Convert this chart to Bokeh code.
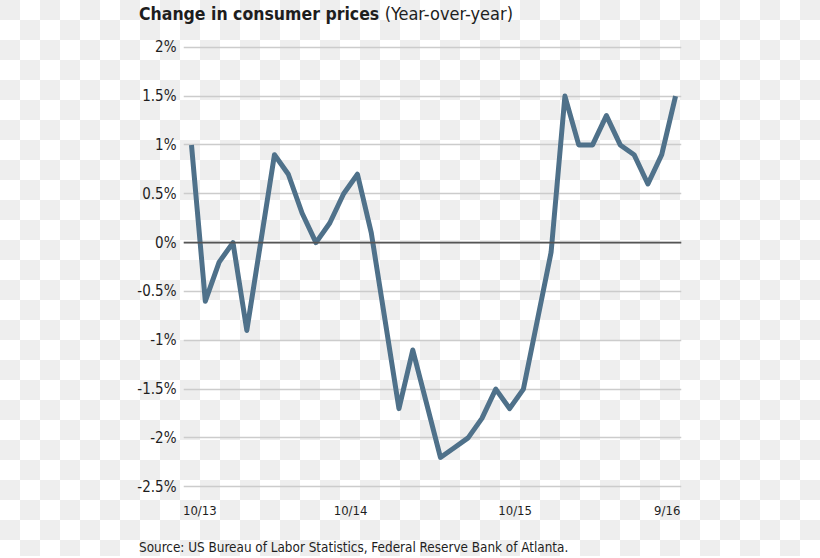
from bokeh.plotting import figure
from bokeh.models import Range1d, FixedTicker, Span, Div, InlineStyleSheet
from bokeh.layouts import column
from bokeh.embed import file_html
from bokeh.resources import INLINE

# ---- data ----
months = list(range(36))  # 10/13 ... 9/16, monthly index
cpi_change = [1.0, -0.6, -0.2, 0.0, -0.9, 0.0, 0.9, 0.7, 0.3, 0.0, 0.2, 0.5,
              0.7, 0.1, -0.8, -1.7, -1.1, -1.65, -2.2, -2.1, -2.0, -1.8, -1.5, -1.7,
              -1.5, -0.8, -0.1, 1.5, 1.0, 1.0, 1.3, 1.0, 0.9, 0.6, 0.9, 1.5]
# label positions (in month-index units) as they sit in the reference
x_tick_pos = [0.6, 11.5, 23.4, 34.4]
x_tick_labels = ["10/13", "10/14", "10/15", "9/16"]
y_ticks = [2.0, 1.5, 1.0, 0.5, 0.0, -0.5, -1.0, -1.5, -2.0, -2.5]
y_tick_labels = ["2%", "1.5%", "1%", "0.5%", "0%", "-0.5%", "-1%", "-1.5%", "-2%", "-2.5%"]
title_main = "Change in consumer prices"
title_sub = "(Year-over-year)"
source_text = "Source: US Bureau of Labor Statistics, Federal Reserve Bank of Atlanta."

FONT = "DejaVu Sans Condensed"
TXT = "#1e1e1e"
W = 820

overflow_css = InlineStyleSheet(css=":host { overflow: visible !important; } div { overflow: visible !important; }")

title_div = Div(
    text=(f'<div style="font-family:\'{FONT}\'; color:{TXT}; padding-left:139px; '
          f'padding-top:4px; white-space:nowrap; line-height:1.15;">'
          f'<span style="font-weight:bold; font-size:17.5px;">{title_main}</span> '
          f'<span style="font-size:18px; margin-left:2px;">{title_sub}</span></div>'),
    width=W, height=30, margin=0, stylesheets=[overflow_css])

p = figure(width=W, height=490,
           x_range=Range1d(-0.578, 35.43), y_range=Range1d(-2.6, 2.1),
           output_backend="svg", toolbar_location=None, margin=0,
           min_border_left=183, min_border_right=W - 183 - 498,
           min_border_top=7, min_border_bottom=24)
p.outline_line_color = None
p.background_fill_color = None
p.border_fill_color = None

p.xgrid.visible = False
p.ygrid.ticker = FixedTicker(ticks=y_ticks)
p.ygrid.grid_line_color = "#cccccc"
p.ygrid.grid_line_width = 1.5

p.add_layout(Span(location=0, dimension="width", line_color="#555555", line_width=1.6))

p.yaxis.ticker = FixedTicker(ticks=y_ticks)
p.yaxis.major_label_overrides = dict(zip(y_ticks, y_tick_labels))
p.xaxis.ticker = FixedTicker(ticks=x_tick_pos)
p.xaxis.major_label_overrides = dict(zip(x_tick_pos, x_tick_labels))
for ax in (p.xaxis, p.yaxis):
    ax.axis_line_color = None
    ax.major_tick_line_color = None
    ax.minor_tick_line_color = None
    ax.major_tick_out = 0
    ax.major_tick_in = 0
    ax.minor_tick_out = 0
    ax.minor_tick_in = 0
    ax.major_label_text_font = FONT
    ax.major_label_text_color = TXT
p.yaxis.major_label_text_font_size = "15px"
p.yaxis.major_label_standoff = 7
p.xaxis.major_label_text_font_size = "13px"
p.xaxis.major_label_standoff = 6

p.line(months, cpi_change, line_color="#4f718a", line_width=5, line_join="round")

source_div = Div(
    text=(f'<div style="font-family:\'{FONT}\'; color:{TXT}; font-size:13.4px; '
          f'padding-left:139px; padding-top:20px; white-space:nowrap; line-height:1.15;">'
          f'{source_text}</div>'),
    width=W, height=36, margin=0, stylesheets=[overflow_css])

checker_css = InlineStyleSheet(css=(
    ":host { background-color: white; "
    "background-image: conic-gradient(white 0 25%, #eeeeee 0 50%, white 0 75%, #eeeeee 0); "
    "background-size: 40px 40px; background-position: 0px 0px; overflow: visible; }"))

root = column(title_div, p, source_div, spacing=0, margin=0, stylesheets=[checker_css])

open("out.html", "w").write(file_html(root, INLINE))
